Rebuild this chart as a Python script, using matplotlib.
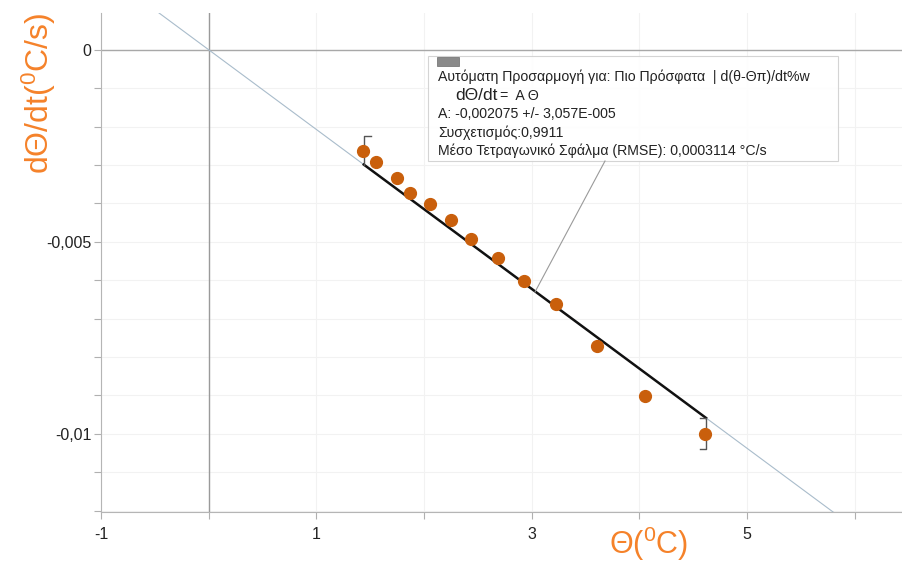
import matplotlib.pyplot as plt
from matplotlib.patches import Rectangle
from matplotlib.ticker import FixedLocator, MultipleLocator, FuncFormatter

plt.rcParams['font.family'] = ['Liberation Sans', 'DejaVu Sans']
plt.rcParams['mathtext.fontset'] = 'custom'
plt.rcParams['mathtext.rm'] = 'Liberation Sans'

# measured points
theta = [1.435, 1.556, 1.75, 1.87, 2.056, 2.25, 2.435, 2.685, 2.93, 3.23, 3.61, 4.05, 4.61]
dtheta = [-0.00263, -0.00292, -0.00333, -0.00372, -0.00401, -0.00443, -0.00492,
          -0.00542, -0.00602, -0.00661, -0.00771, -0.00901, -0.01000]

# fit dTheta/dt = A * Theta over the selected range
A = -0.002075
fit_range = [1.44, 4.62]

x_ticks = [-1, 1, 3, 5]
y_ticks = [0, -0.005, -0.01]

orange_lbl = '#f5822a'
orange_pt = '#c95f0c'

fig = plt.figure(figsize=(9.03, 5.63), dpi=100)
ax = fig.add_axes([0.112, 0.091, 0.888, 0.886])
ax.set_xlim(-1, 6.45)
ax.set_ylim(-0.01203, 0.00096)

# grid and zero lines
ax.xaxis.set_major_locator(FixedLocator(x_ticks))
ax.xaxis.set_minor_locator(MultipleLocator(1))
ax.yaxis.set_major_locator(FixedLocator(y_ticks))
ax.yaxis.set_minor_locator(MultipleLocator(0.001))
ax.grid(which='both', color='#f2f2f2', lw=0.8)
ax.set_axisbelow(True)
ax.axhline(0, color='#a8a8a8', lw=1.0, zorder=1)
ax.axvline(0, color='#9a9a9a', lw=1.0, zorder=1)

fmt = FuncFormatter(lambda v, p: ('%g' % v).replace('.', ','))
ax.xaxis.set_major_formatter(fmt)
ax.yaxis.set_major_formatter(fmt)
ax.tick_params(which='both', colors='#b0b0b0', labelcolor='#222222', labelsize=11.5,
               length=5, width=0.8)
ax.tick_params(axis='x', pad=6)
ax.tick_params(axis='y', pad=2)
for s in ['top', 'right']:
    ax.spines[s].set_visible(False)
for s in ['left', 'bottom']:
    ax.spines[s].set_color('#b5b5b5')

# extended fit line (thin)
xl = ax.get_xlim()
ax.plot(xl, [A * xl[0], A * xl[1]], color='#a9bccb', lw=0.8, zorder=2)

# fit line over selected range
ax.plot(fit_range, [A * fit_range[0], A * fit_range[1]], color='#111111', lw=1.8, zorder=3)

# range brackets
x0, x1 = fit_range
y0, y1 = A * x0, A * x1
ax.plot([x0 + 0.07, x0, x0], [y0 + 0.00075, y0 + 0.00075, y0], color='#555555', lw=1.0, zorder=3)
ax.plot([x1 - 0.06, x1, x1, x1 - 0.06], [y1, y1, y1 - 0.0008, y1 - 0.0008],
        color='#555555', lw=1.0, zorder=3)

# data points
ax.plot(theta, dtheta, 'o', color=orange_pt, ms=8.5, mec=orange_pt, zorder=4)

# axis titles
fig.text(0.043, 0.835, 'dΘ/dt($\\mathregular{^0}$C/s)', rotation=90, ha='center', va='center',
         fontsize=23, color=orange_lbl)
fig.text(0.718, 0.034, 'Θ($\\mathregular{^0}$C)', ha='center', va='center',
         fontsize=22, color=orange_lbl)

# annotation box
W, H = 903.0, 563.0
def fx(px):
    return px / W
def fy(py):
    return 1 - py / H

fig.add_artist(plt.Line2D([fx(605), fx(535)], [fy(161), fy(292)], color='#9a9a9a', lw=0.8))
fig.add_artist(Rectangle((fx(428), fy(161)), fx(838) - fx(428), fy(56) - fy(161),
                         facecolor='white', edgecolor='#d0d0d0', lw=0.8, alpha=0.9))
fig.add_artist(Rectangle((fx(437), fy(66)), fx(459) - fx(437), fy(57) - fy(66),
                         facecolor='#8a8a8a', edgecolor='#6a6a6a', lw=0.5))
tk = dict(fontsize=10.2, color='#222222', va='center', ha='left')
fig.text(fx(438), fy(77), 'Αυτόματη Προσαρμογή για: Πιο Πρόσφατα  | d(θ-Θπ)/dt%w', **tk)
fig.text(fx(455), fy(96), 'dΘ/dt', fontsize=12.5, color='#222222', va='center', ha='left')
fig.text(fx(500), fy(96), '=  A Θ', **tk)
fig.text(fx(438), fy(114), 'A: -0,002075 +/- 3,057E-005', **tk)
fig.text(fx(438), fy(133), 'Συσχετισμός:0,9911', **tk)
fig.text(fx(438), fy(151), 'Μέσο Τετραγωνικό Σφάλμα (RMSE): 0,0003114 °C/s', **tk)

fig.savefig('out.png', dpi=100)
